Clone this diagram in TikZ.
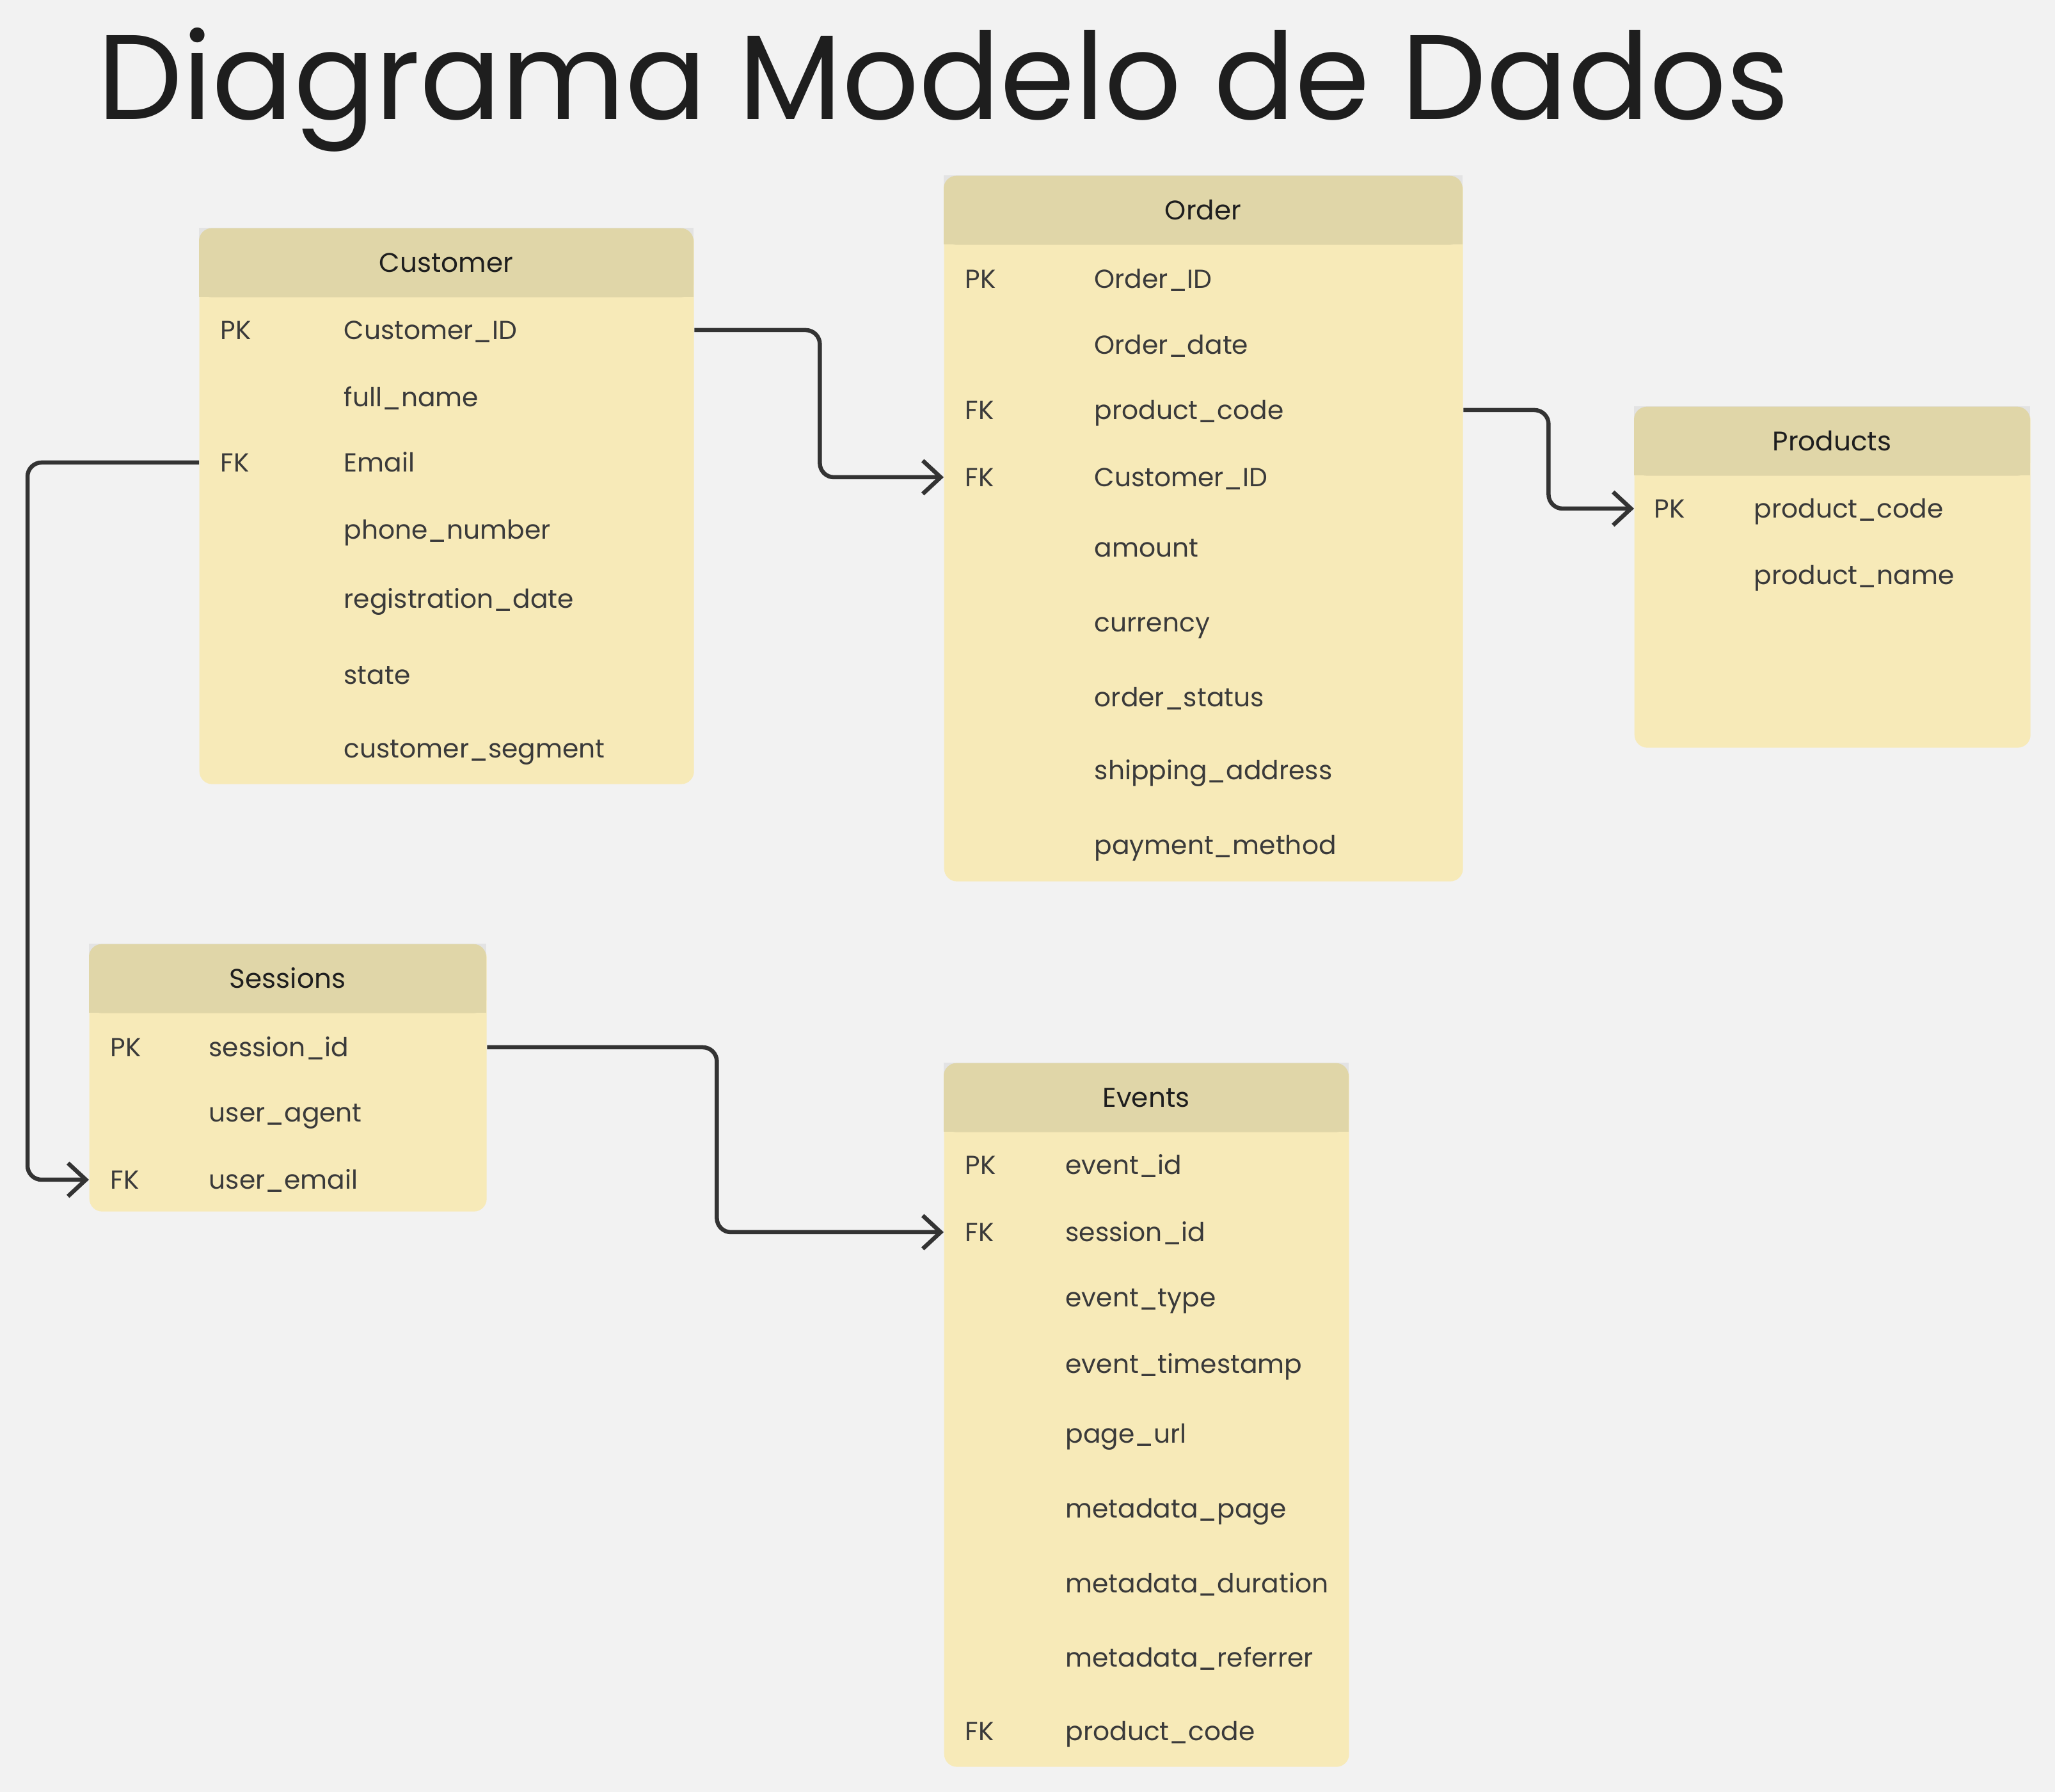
\documentclass[tikz,border=0pt]{standalone}
\usepackage{fontspec}
\setmainfont{Poppins}
\usetikzlibrary{arrows.meta}

\definecolor{bggray}{HTML}{F2F2F2}
\definecolor{cornergray}{HTML}{E3E3E3}
\definecolor{headfill}{HTML}{E0D6A8}
\definecolor{rowfill}{HTML}{F7EAB8}
\definecolor{inktext}{HTML}{1E1E1E}
\definecolor{fieldtext}{HTML}{3A3A3A}
\definecolor{linkgray}{HTML}{333333}

\newcommand{\rowfont}{\fontsize{11.6}{14}\selectfont}
\newcommand{\headfont}{\fontsize{12}{14}\selectfont}

\tikzset{
  tablebox/.style={fill=rowfill, rounded corners=0.2cm, inner sep=0pt, anchor=north west},
  headbox/.style={fill=headfill, rounded corners=0.2cm, inner sep=0pt, anchor=north,
    minimum height=1.08cm, text=inktext, font=\headfont, text height=0.3cm, text depth=0pt},
  rowtext/.style={anchor=west, inner sep=0pt, text=fieldtext, font=\rowfont,
    text height=0.3cm, text depth=0pt},
  link/.style={draw=linkgray, line width=0.065cm, rounded corners=0.22cm,
    -{Straight Barb[length=0.28cm, width=0.52cm]}},
}

\begin{document}
\begin{tikzpicture}

  \useasboundingbox (0,0) rectangle (32.12,28.01);
  \fill[bggray] (0,0) rectangle (32.12,28.01);

  % Title
  \node[anchor=base west, inner sep=0pt, text=inktext,
    font=\fontsize{53.5}{60}\selectfont] (title) at (1.52,26.14)
    {Diagrama Modelo de Dados};

  % === CUSTOMER ===
  \begin{scope}[shift={(3.11,24.45)}]
    \node[tablebox, minimum width=7.73cm, minimum height=8.69cm] (cust) at (0,0) {};
    \fill[cornergray] (0,0) rectangle (7.73,-0.5);
    \fill[headfill] (0,-0.5) rectangle (7.73,-1.08);
    \node[headbox, minimum width=7.73cm] (cust-head) at (3.865,0) {Customer};

    \node[rowtext] (cust-k1) at (0.33,-1.60) {PK};
    \node[rowtext] (cust-id) at (2.26,-1.60) {Customer\_ID};
    \node[rowtext] (cust-name) at (2.26,-2.65) {full\_name};
    \node[rowtext] (cust-k3) at (0.33,-3.67) {FK};
    \node[rowtext] (cust-email) at (2.26,-3.67) {Email};
    \node[rowtext] (cust-phone) at (2.26,-4.72) {phone\_number};
    \node[rowtext] (cust-reg) at (2.26,-5.80) {registration\_date};
    \node[rowtext] (cust-state) at (2.26,-6.99) {state};
    \node[rowtext] (cust-seg) at (2.26,-8.14) {customer\_segment};
  \end{scope}

  % === ORDER ===
  \begin{scope}[shift={(14.75,25.27)}]
    \node[tablebox, minimum width=8.11cm, minimum height=11.03cm] (order) at (0,0) {};
    \fill[cornergray] (0,0) rectangle (8.11,-0.5);
    \fill[headfill] (0,-0.5) rectangle (8.11,-1.08);
    \node[headbox, minimum width=8.11cm] (order-head) at (4.055,0) {Order};

    \node[rowtext] (order-k1) at (0.33,-1.62) {PK};
    \node[rowtext] (order-id) at (2.35,-1.62) {Order\_ID};
    \node[rowtext] (order-date) at (2.35,-2.65) {Order\_date};
    \node[rowtext] (order-k3) at (0.33,-3.67) {FK};
    \node[rowtext] (order-pc) at (2.35,-3.67) {product\_code};
    \node[rowtext] (order-k4) at (0.33,-4.72) {FK};
    \node[rowtext] (order-cid) at (2.35,-4.72) {Customer\_ID};
    \node[rowtext] (order-amount) at (2.35,-5.82) {amount};
    \node[rowtext] (order-cur) at (2.35,-6.99) {currency};
    \node[rowtext] (order-status) at (2.35,-8.16) {order\_status};
    \node[rowtext] (order-ship) at (2.35,-9.30) {shipping\_address};
    \node[rowtext] (order-pay) at (2.35,-10.47) {payment\_method};
  \end{scope}

  % === PRODUCTS ===
  \begin{scope}[shift={(25.54,21.66)}]
    \node[tablebox, minimum width=6.19cm, minimum height=5.33cm] (prod) at (0,0) {};
    \fill[cornergray] (0,0) rectangle (6.19,-0.5);
    \fill[headfill] (0,-0.5) rectangle (6.19,-1.08);
    \node[headbox, minimum width=6.19cm] (prod-head) at (3.095,0) {Products};

    \node[rowtext] (prod-k1) at (0.31,-1.60) {PK};
    \node[rowtext] (prod-pc) at (1.87,-1.60) {product\_code};
    \node[rowtext] (prod-name) at (1.87,-2.64) {product\_name};
  \end{scope}

  % === SESSIONS ===
  \begin{scope}[shift={(1.39,13.26)}]
    \node[tablebox, minimum width=6.21cm, minimum height=4.18cm] (sess) at (0,0) {};
    \fill[cornergray] (0,0) rectangle (6.21,-0.5);
    \fill[headfill] (0,-0.5) rectangle (6.21,-1.08);
    \node[headbox, minimum width=6.21cm] (sess-head) at (3.105,0) {Sessions};

    \node[rowtext] (sess-k1) at (0.33,-1.62) {PK};
    \node[rowtext] (sess-id) at (1.87,-1.62) {session\_id};
    \node[rowtext] (sess-agent) at (1.87,-2.64) {user\_agent};
    \node[rowtext] (sess-k3) at (0.33,-3.69) {FK};
    \node[rowtext] (sess-email) at (1.87,-3.69) {user\_email};
  \end{scope}

  % === EVENTS ===
  \begin{scope}[shift={(14.75,11.40)}]
    \node[tablebox, minimum width=6.33cm, minimum height=11.00cm] (ev) at (0,0) {};
    \fill[cornergray] (0,0) rectangle (6.33,-0.5);
    \fill[headfill] (0,-0.5) rectangle (6.33,-1.08);
    \node[headbox, minimum width=6.33cm] (ev-head) at (3.165,0) {Events};

    \node[rowtext] (ev-k1) at (0.33,-1.60) {PK};
    \node[rowtext] (ev-id) at (1.90,-1.60) {event\_id};
    \node[rowtext] (ev-k2) at (0.33,-2.65) {FK};
    \node[rowtext] (ev-sid) at (1.90,-2.65) {session\_id};
    \node[rowtext] (ev-type) at (1.90,-3.67) {event\_type};
    \node[rowtext] (ev-time) at (1.90,-4.71) {event\_timestamp};
    \node[rowtext] (ev-url) at (1.90,-5.80) {page\_url};
    \node[rowtext] (ev-mpage) at (1.90,-6.97) {metadata\_page};
    \node[rowtext] (ev-mdur) at (1.90,-8.14) {metadata\_duration};
    \node[rowtext] (ev-mref) at (1.90,-9.30) {metadata\_referrer};
    \node[rowtext] (ev-k9) at (0.33,-10.45) {FK};
    \node[rowtext] (ev-pc) at (1.90,-10.45) {product\_code};
  \end{scope}

  % === RELATIONS ===
  \draw[link] (cust.east |- cust-id.west) -- ++(1.96,0) |- (order.west |- order-cid.west);
  \draw[link] (order.east |- order-pc.west) -- ++(1.33,0) |- (prod.west |- prod-pc.west);
  \draw[link] (cust.west |- cust-email.west) -- ++(-2.68,0) |- (sess.west |- sess-email.west);
  \draw[link] (sess.east |- sess-id.west) -- ++(3.59,0) |- (ev.west |- ev-sid.west);

\end{tikzpicture}
\end{document}
